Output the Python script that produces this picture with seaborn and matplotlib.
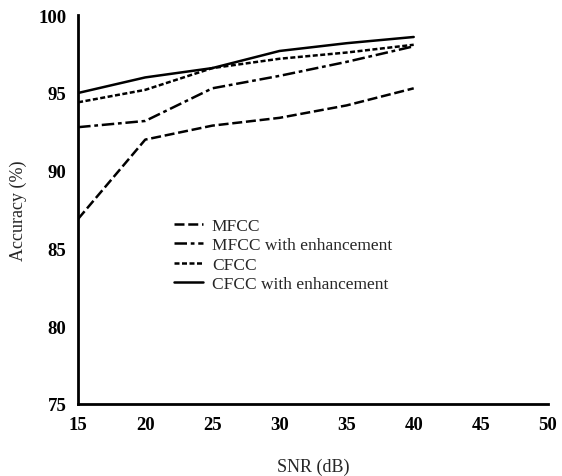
import matplotlib
matplotlib.use("Agg")
import matplotlib.pyplot as plt
import seaborn as sns
import pandas as pd

snr = [15, 20, 25, 30, 35, 40]
mfcc = [86.9, 92.0, 92.9, 93.4, 94.2, 95.3]
mfcc_enh = [92.8, 93.2, 95.3, 96.1, 97.0, 98.0]
cfcc = [94.4, 95.2, 96.6, 97.2, 97.6, 98.1]
cfcc_enh = [95.0, 96.0, 96.6, 97.7, 98.2, 98.6]
series = ["MFCC", "MFCC with enhancement", "CFCC", "CFCC with enhancement"]
xticks = [15, 20, 25, 30, 35, 40, 45, 50]
yticks = [75, 80, 85, 90, 95, 100]

sns.set_style("white")
plt.rcParams['font.family'] = ['Liberation Serif', 'DejaVu Serif']

rows = []
for name, vals in zip(series, [mfcc, mfcc_enh, cfcc, cfcc_enh]):
    for x, v in zip(snr, vals):
        rows.append({"SNR": x, "Accuracy": v, "Method": name})
df = pd.DataFrame(rows)

fig = plt.figure(figsize=(5.62, 4.77), dpi=100)
ax = fig.add_axes([0.139, 0.151, 0.836, 0.815])

dashes = {
    "MFCC": (4, 1.5),
    "MFCC with enhancement": (5, 1.5, 1.5, 1.5),
    "CFCC": (2, 1),
    "CFCC with enhancement": "",
}
sns.lineplot(data=df, x="SNR", y="Accuracy", hue="Method", style="Method",
             palette=["black"] * 4, dashes=dashes, linewidth=1.8, ax=ax,
             hue_order=series, style_order=series)

ax.set_xlim(15, 50)
ax.set_ylim(75, 100)
ax.set_xticks(xticks)
ax.set_yticks(yticks)
for s in ["top", "right"]:
    ax.spines[s].set_visible(False)
for s in ["left", "bottom"]:
    ax.spines[s].set_linewidth(2)
    ax.spines[s].set_color("black")
ax.tick_params(direction="out", length=5, width=2, colors="black", labelsize=13.5)
for lab in ax.get_xticklabels() + ax.get_yticklabels():
    lab.set_fontweight("bold")
ax.set_xlabel("SNR (dB)", fontsize=13, labelpad=18)
ax.set_ylabel("Accuracy (%)", fontsize=13, labelpad=8)

leg = ax.legend(loc="upper left", bbox_to_anchor=(0.17, 0.52), frameon=False,
                fontsize=12.5, handlelength=1.7, handletextpad=0.5,
                labelspacing=0.2)
for line in leg.get_lines():
    line.set_linewidth(1.8)

fig.savefig("out.png", dpi=100)
